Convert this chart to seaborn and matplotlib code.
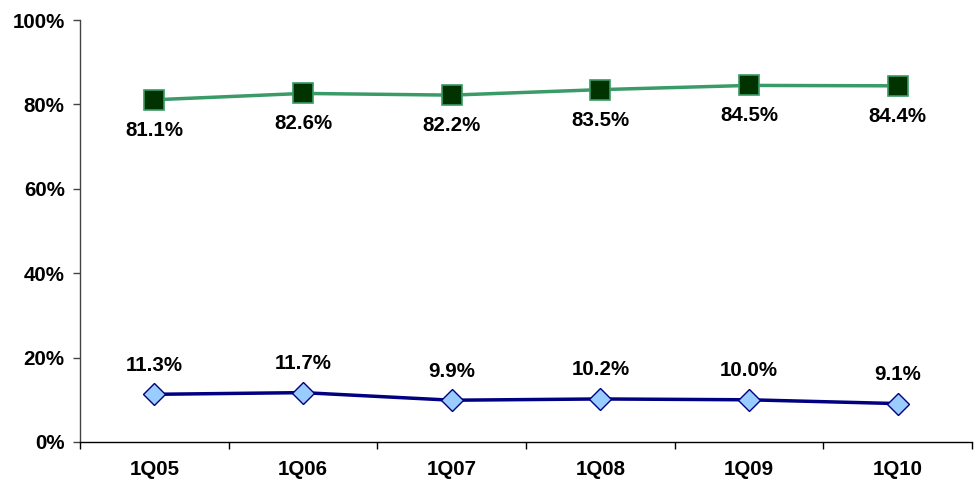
import numpy as np
import pandas as pnd
import seaborn as sns
import matplotlib.pyplot as plt
from matplotlib.ticker import FixedLocator, NullFormatter

quarters = ["1Q05", "1Q06", "1Q07", "1Q08", "1Q09", "1Q10"]
upper_vals = [81.1, 82.6, 82.2, 83.5, 84.5, 84.4]
lower_vals = [11.3, 11.7, 9.9, 10.2, 10.0, 9.1]

sns.set_style("white")
plt.rcParams['font.family'] = ['Liberation Sans', 'DejaVu Sans']
plt.rcParams['text.color'] = 'black'
plt.rcParams['xtick.color'] = 'black'
plt.rcParams['ytick.color'] = 'black'

data = pnd.DataFrame({'pos': np.arange(len(quarters)), 'upper': upper_vals, 'lower': lower_vals})

fig = plt.figure(figsize=(9.8, 4.82), dpi=100)
ax = fig.add_axes([0.0816, 0.083, 0.9104, 0.8755])

#Green series with square markers
sns.lineplot(data=data, x='pos', y='upper', ax=ax, color='#3a9a68', linewidth=2.5,
             marker='s', markersize=14, markerfacecolor='#003300',
             markeredgecolor='#3a9a68', markeredgewidth=1.2)

#Blue series with diamond markers
sns.lineplot(data=data, x='pos', y='lower', ax=ax, color='#000080', linewidth=2.5,
             marker='D', markersize=11, markerfacecolor='#99ccff',
             markeredgecolor='#000080', markeredgewidth=1.0)

fs = 14.8

#Value labels
for x, v in zip(data['pos'], upper_vals):
    ax.annotate(f"{v:.1f}%", (x, v), xytext=(0, -22), textcoords='offset points',
                ha='center', va='center', fontsize=fs, fontweight='bold', color='black')
for x, v in zip(data['pos'], lower_vals):
    ax.annotate(f"{v:.1f}%", (x, v), xytext=(0, 21), textcoords='offset points',
                ha='center', va='center', fontsize=fs, fontweight='bold', color='black')

ax.set_xlim(-0.5, len(quarters) - 0.5)
ax.set_ylim(0, 100)

#Y axis
ax.set_yticks(np.arange(0, 101, 20))
ax.set_yticklabels([f"{t}%" for t in range(0, 101, 20)], fontsize=fs, fontweight='bold')

#X axis: labels centred, tick marks between categories
ax.set_xticks(data['pos'])
ax.set_xticklabels(quarters, fontsize=fs, fontweight='bold')
ax.tick_params(axis='x', which='major', length=0, pad=13)
ax.xaxis.set_minor_locator(FixedLocator(np.arange(-0.5, len(quarters), 1.0)))
ax.xaxis.set_minor_formatter(NullFormatter())
ax.tick_params(axis='x', which='minor', length=5, width=1, color='black', direction='out', bottom=True)
ax.tick_params(axis='y', length=5, width=1, color='#444444', direction='out', left=True, pad=6)

ax.set_xlabel('')
ax.set_ylabel('')
for side in ['top', 'right']:
    ax.spines[side].set_visible(False)
ax.spines['left'].set_color('#444444')
ax.spines['bottom'].set_color('black')
ax.spines['left'].set_linewidth(1)
ax.spines['bottom'].set_linewidth(1)

fig.savefig('out.png', dpi=100)
